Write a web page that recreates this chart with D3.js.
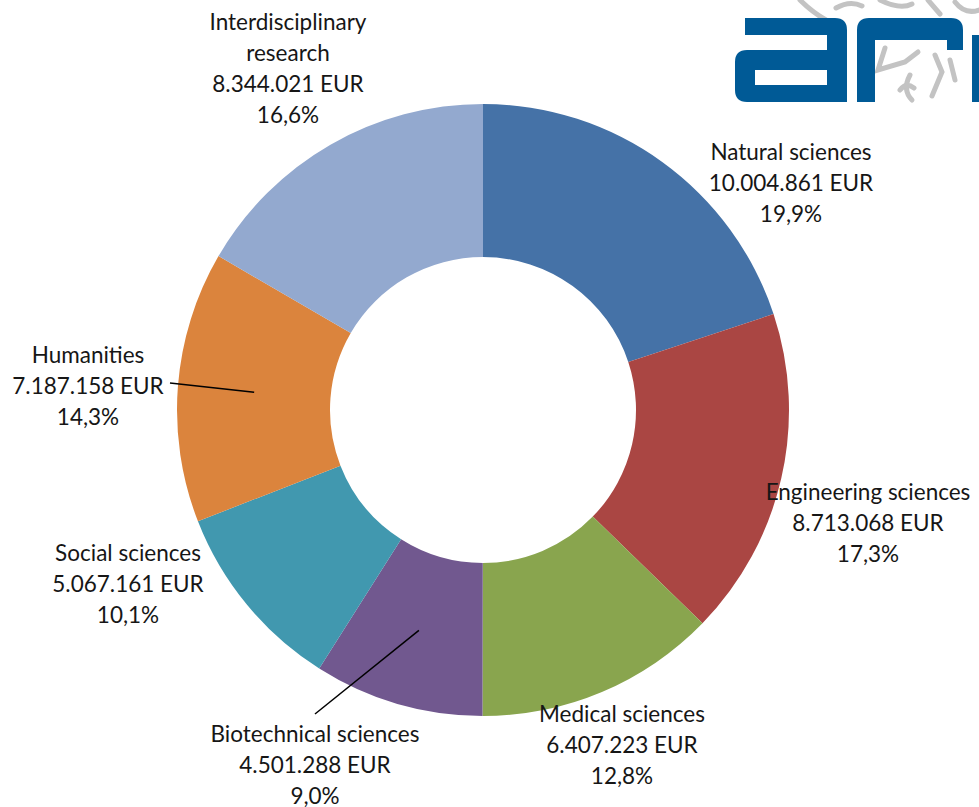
<!DOCTYPE html>
<html>
<head>
<meta charset="utf-8">
<script src="https://cdn.jsdelivr.net/npm/d3@7"></script>
<style>
  html, body { margin: 0; padding: 0; background: #ffffff; }
  svg { display: block; }
  text { font-family: Lato, "Open Sans", sans-serif; fill: #161616; }
</style>
</head>
<body>
<svg id="chart" width="979" height="807"></svg>
<script>
// ---- data ----
const categories = ["Natural sciences", "Engineering sciences", "Medical sciences",
  "Biotechnical sciences", "Social sciences", "Humanities", "Interdisciplinary research"];
const labelLines = [["Natural sciences"], ["Engineering sciences"], ["Medical sciences"],
  ["Biotechnical sciences"], ["Social sciences"], ["Humanities"], ["Interdisciplinary", "research"]];
const values = [10004861, 8713068, 6407223, 4501288, 5067161, 7187158, 8344021];
const colors = ["#4572A7", "#AA4643", "#89A54E", "#71588F", "#4198AF", "#DB843D", "#93A9CF"];

// ---- layout (label anchor = centre x, baseline of first line) ----
const cx = 483, cy = 410, rOuter = 306, rInner = 153;
const labelLayout = [
  { x: 791, y: 160 },
  { x: 868, y: 500 },
  { x: 622, y: 722 },
  { x: 315, y: 742 },
  { x: 128, y: 561 },
  { x: 88,  y: 363 },
  { x: 288, y: 30 }
];
const leaders = { 3: [315, 714], 5: [170, 383] };
const lineH = 31;

const svg = d3.select("#chart");

// ---- logo ----
const logo = svg.append("g");
const gray = "#c3c3c3";
[
  "M800,0 Q812,12 826,20",
  "M836,8 Q850,0 862,6",
  "M880,0 Q900,10 912,4",
  "M928,0 L940,14",
  "M955,2 Q965,15 979,10",
  "M885,48 L878,70 L905,62 L918,52",
  "M910,75 Q902,90 912,100",
  "M900,90 Q906,82 914,88",
  "M935,55 L942,72 L932,96",
  "M950,60 L955,80"
].forEach(p => logo.append("path").attr("d", p).attr("fill", "none")
  .attr("stroke", gray).attr("stroke-width", 5).attr("stroke-linecap", "round"));
const blue = "#005A96";
// letter a
logo.append("path").attr("fill", blue).attr("fill-rule", "evenodd").attr("d",
  "M745,18 L835,18 Q847,18 847,30 L847,102 L747,102 Q735,102 735,90 L735,62 Q735,50 747,50 L827,50 L827,35 L745,35 Z " +
  "M755,70 L827,70 L827,85 L755,85 Z");
// letter r
logo.append("path").attr("fill", blue).attr("d",
  "M869,18 L951,18 Q963,18 963,30 L963,50 L947,50 L947,40 L875,40 L875,102 L857,102 L857,30 Q857,18 869,18 Z");
// letter i (cropped)
logo.append("rect").attr("fill", blue).attr("x", 972).attr("y", 35).attr("width", 10).attr("height", 67);

// ---- donut ----
const total = d3.sum(values);
const pie = d3.pie().sort(null).value(d => d)(values);
const arc = d3.arc().innerRadius(rInner).outerRadius(rOuter);
const g = svg.append("g").attr("transform", `translate(${cx},${cy})`);
g.selectAll("path.slice").data(pie).join("path")
  .attr("class", "slice")
  .attr("d", arc)
  .attr("fill", (d, i) => colors[i]);

// leader lines
Object.keys(leaders).forEach(k => {
  const i = +k;
  const c = arc.centroid(pie[i]);
  svg.append("line")
    .attr("x1", leaders[i][0]).attr("y1", leaders[i][1])
    .attr("x2", cx + c[0]).attr("y2", cy + c[1])
    .attr("stroke", "#000").attr("stroke-width", 1.5);
});

// labels
const fmtNum = v => d3.format(",")(v).replace(/,/g, ".");
const fmtPct = v => d3.format(".1f")(v * 100).replace(".", ",") + "%";
categories.forEach((c, i) => {
  const lines = labelLines[i].concat([fmtNum(values[i]) + " EUR", fmtPct(values[i] / total)]);
  const t = svg.append("text")
    .attr("text-anchor", "middle")
    .attr("font-size", 22.5);
  lines.forEach((l, j) => {
    t.append("tspan").attr("x", labelLayout[i].x).attr("y", labelLayout[i].y + j * lineH).text(l);
  });
});
</script>
</body>
</html>
